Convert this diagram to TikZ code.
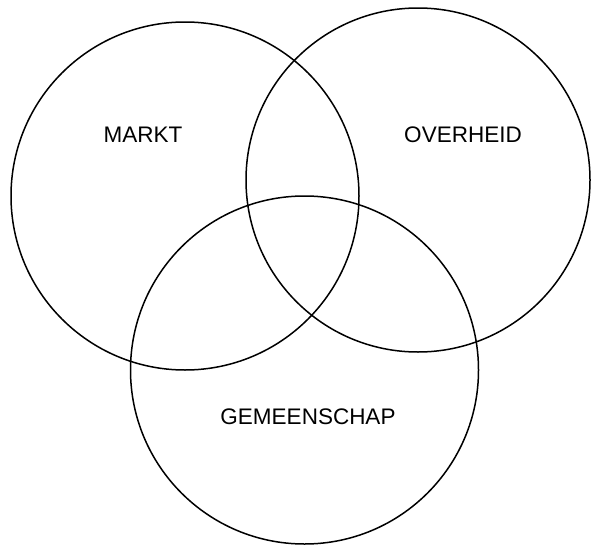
\documentclass[tikz,border=0pt]{standalone}
\usepackage{fontspec}
\setmainfont{Liberation Sans}
\begin{document}
\begin{tikzpicture}[x=1pt,y=-1pt,
  ring/.style={draw=black,line width=1.5pt,circle,minimum size=#1,inner sep=0pt},
  lbl/.style={font=\fontsize{22.5}{25}\selectfont,inner sep=0pt}]
\useasboundingbox (0,0) rectangle (591,546);
\node[ring=348pt] (markt) at (185,196) {};
\node[ring=344pt] (overheid) at (418,180) {};
\node[ring=348pt] (gemeenschap) at (304.5,370) {};
\node[lbl] (tm) at (143,135) {MARKT};
\node[lbl] (to) at (463,135) {OVERHEID};
\node[lbl] (tg) at (308,417) {GEMEENSCHAP};
\end{tikzpicture}
\end{document}
